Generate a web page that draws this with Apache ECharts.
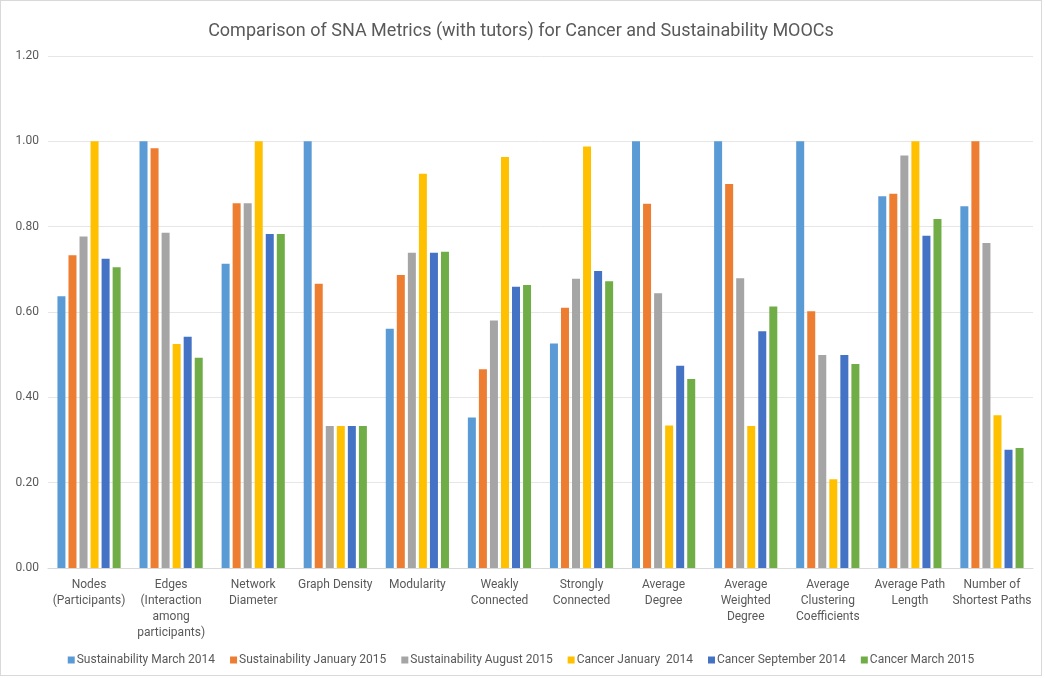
<!DOCTYPE html>
<html>
<head>
<meta charset="utf-8">
<script src="https://cdn.jsdelivr.net/npm/echarts@6/dist/echarts.min.js"></script>
<style>
  body { margin: 0; background: #fff; }
  #wrap { width: 1042px; height: 676px; border: 1px solid #d9d9d9; box-sizing: border-box; }
  #chart { width: 1040px; height: 674px; }
</style>
</head>
<body>
<div id="wrap"><div id="chart"></div></div>
<script>
var categories = ['Nodes\n(Participants)', 'Edges\n(Interaction\namong\nparticipants)', 'Network\nDiameter', 'Graph Density',
  'Modularity', 'Weakly\nConnected', 'Strongly\nConnected', 'Average\nDegree', 'Average\nWeighted\nDegree',
  'Average\nClustering\nCoefficients', 'Average Path\nLength', 'Number of\nShortest Paths'];
var seriesNames = ['Sustainability March 2014', 'Sustainability January 2015', 'Sustainability August 2015',
  'Cancer January  2014', 'Cancer September 2014', 'Cancer March 2015'];
var colors = ['#5B9BD5', '#ED7D31', '#A5A5A5', '#FFC000', '#4472C4', '#70AD47'];

var susMar2014 = [0.637, 1.000, 0.713, 1.000, 0.561, 0.353, 0.526, 1.000, 1.000, 1.000, 0.871, 0.848];
var susJan2015 = [0.733, 0.984, 0.855, 0.666, 0.687, 0.466, 0.610, 0.854, 0.900, 0.602, 0.877, 1.000];
var susAug2015 = [0.777, 0.786, 0.855, 0.333, 0.739, 0.580, 0.678, 0.644, 0.679, 0.499, 0.967, 0.762];
var canJan2014 = [1.000, 0.525, 1.000, 0.333, 0.924, 0.963, 0.988, 0.334, 0.333, 0.208, 1.000, 0.358];
var canSep2014 = [0.725, 0.542, 0.783, 0.333, 0.739, 0.659, 0.696, 0.474, 0.555, 0.499, 0.779, 0.277];
var canMar2015 = [0.705, 0.493, 0.783, 0.333, 0.741, 0.663, 0.672, 0.443, 0.613, 0.478, 0.818, 0.281];
var allData = [susMar2014, susJan2015, susAug2015, canJan2014, canSep2014, canMar2015];

var chart = echarts.init(document.getElementById('chart'));
var txt = '#595959';
var font = 'Roboto';

var series = [];
for (var i = 0; i < allData.length; i++) {
  series.push({
    name: seriesNames[i],
    type: 'bar',
    data: allData[i],
    barWidth: 8,
    barGap: '38%',
    itemStyle: { color: colors[i] }
  });
}

var option = {
  animation: false,
  color: colors,
  title: {
    text: 'Comparison of SNA Metrics (with tutors) for Cancer and Sustainability MOOCs',
    left: 'center',
    top: 16,
    textStyle: { color: txt, fontSize: 18, fontWeight: 'normal', fontFamily: font }
  },
  legend: {
    data: seriesNames,
    bottom: 4,
    left: 'center',
    icon: 'rect',
    itemWidth: 7,
    itemHeight: 7,
    itemGap: 15,
    textStyle: { color: txt, fontSize: 12, fontFamily: font, padding: [0, 0, 0, -3] }
  },
  grid: { left: 47, right: 8, top: 55, bottom: 107 },
  xAxis: {
    type: 'category',
    data: categories,
    axisTick: { show: false },
    axisLine: { lineStyle: { color: '#d9d9d9' } },
    axisLabel: { color: txt, fontSize: 12, fontFamily: font, lineHeight: 16, margin: 9, interval: 0 }
  },
  yAxis: {
    type: 'value',
    min: 0,
    max: 1.2,
    interval: 0.2,
    axisLine: { show: false },
    axisTick: { show: false },
    splitLine: { lineStyle: { color: '#e6e6e6' } },
    axisLabel: {
      color: txt, fontSize: 12, fontFamily: font, margin: 9,
      formatter: function (v) { return v.toFixed(2); }
    }
  },
  series: series
};
chart.setOption(option);
</script>
</body>
</html>
